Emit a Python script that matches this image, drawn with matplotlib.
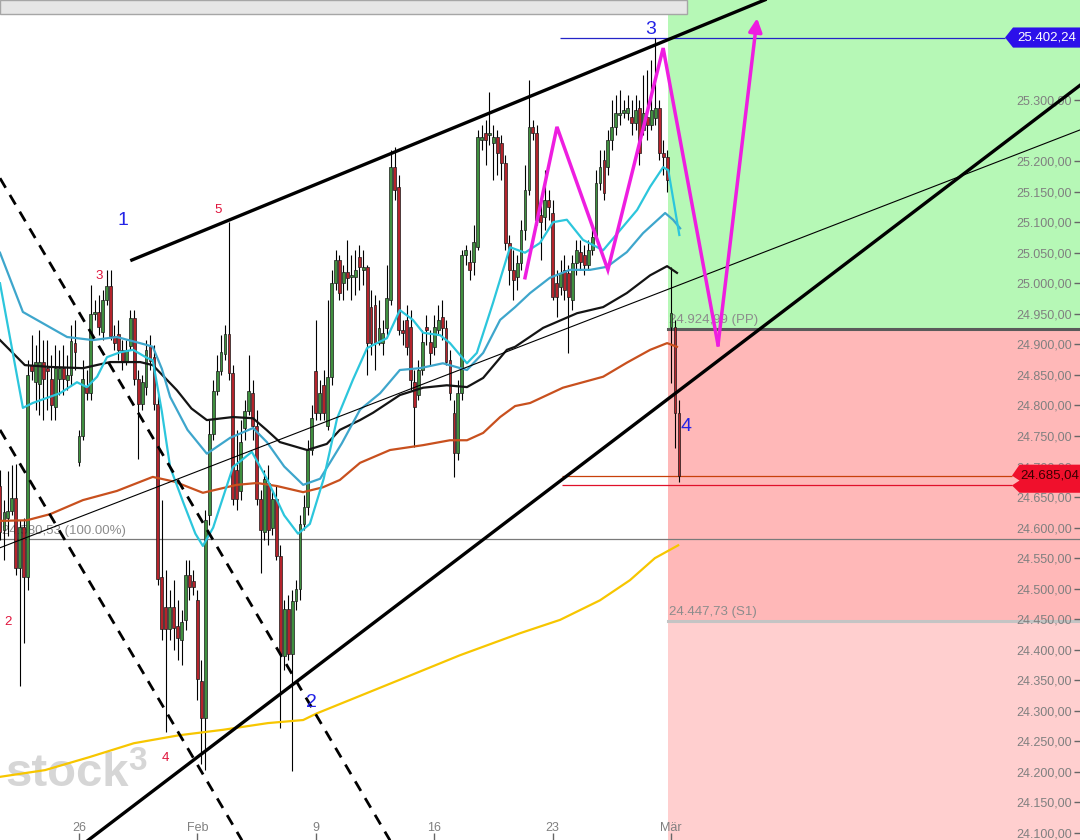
import numpy as np
import matplotlib.pyplot as plt
import matplotlib.transforms as mtrans
from matplotlib.patches import Rectangle, Polygon

plt.rcParams['font.family'] = ['Liberation Sans', 'DejaVu Sans']

# ---- candle data (6 candles per trading day, index 0 = Mon 26 Jan first candle)
opens = [24668, 24596, 24616, 24627, 24648, 24534, 24601, 24519, 24866, 24838,
         24835, 24871, 24861, 24843, 24797, 24843, 24861, 24842, 24850, 24902,
         24707, 24750, 24830, 24820, 24950, 24953, 24920, 24973, 24995, 24914,
         24917, 24891, 24873, 24897, 24943, 24843, 24802, 24830, 24897, 24879,
         24802, 24519, 24470, 24434, 24470, 24439, 24416, 24449, 24522, 24513,
         24481, 24349, 24288, 24621, 24753, 24824, 24856, 24884, 24917, 24853,
         24694, 24660, 24763, 24791, 24820, 24766, 24647, 24593, 24673, 24599,
         24647, 24554, 24390, 24467, 24393, 24480, 24500, 24606, 24634, 24727,
         24856, 24788, 24833, 24766, 24846, 25000, 25038, 25000, 25018, 25010,
         25010, 25043, 25022, 25027, 24961, 24964, 24902, 24902, 24927, 24973,
         25190, 25158, 24923, 24940, 24928, 24838, 24817, 24858, 24928, 24904,
         24896, 24923, 24945, 24927, 24874, 24788, 24722, 24820, 25046, 25035,
         25035, 25059, 25234, 25246, 25243, 25230, 25239, 25230, 25197, 25066,
         25022, 25010, 25033, 25087, 25153, 25256, 25246, 25112, 25108, 25136,
         25115, 25000, 24994, 25022, 25017, 24973, 25033, 25051, 25046, 25030,
         25054, 25076, 25164, 25202, 25190, 25234, 25256, 25275, 25279, 25279,
         25272, 25262, 25287, 25251, 25272, 25259, 25270, 25287, 25213, 25207,
         24928, 24928, 24788]
closes = [24593, 24625, 24627, 24648, 24534, 24601, 24519, 24850, 24856, 24871,
          24871, 24843, 24856, 24801, 24861, 24861, 24843, 24850, 24905, 24887,
          24750, 24843, 24820, 24950, 24953, 24928, 24973, 24995, 24914, 24902,
          24891, 24873, 24891, 24943, 24843, 24802, 24838, 24891, 24873, 24802,
          24516, 24434, 24434, 24470, 24436, 24419, 24445, 24522, 24503, 24503,
          24352, 24288, 24612, 24753, 24824, 24856, 24887, 24917, 24853, 24647,
          24647, 24740, 24791, 24824, 24766, 24647, 24596, 24680, 24596, 24647,
          24554, 24393, 24467, 24393, 24480, 24500, 24606, 24634, 24727, 24779,
          24788, 24820, 24788, 24846, 25000, 25038, 24984, 25018, 25009, 25013,
          25022, 25027, 25027, 24902, 24902, 24902, 24927, 24918, 24976, 25190,
          25153, 24923, 24918, 24896, 24842, 24797, 24858, 24904, 24923, 24886,
          24928, 24940, 24927, 24871, 24820, 24722, 24820, 25046, 25054, 25022,
          25068, 25239, 25239, 25234, 25246, 25239, 25213, 25197, 25066, 25022,
          25005, 25033, 25087, 25153, 25256, 25246, 25104, 25100, 25136, 25125,
          24978, 24978, 25017, 24989, 24978, 25033, 25054, 25035, 25030, 25054,
          25076, 25164, 25190, 25148, 25234, 25256, 25279, 25279, 25284, 25287,
          25262, 25284, 25213, 25279, 25259, 25284, 25287, 25213, 25207, 25169,
          24951, 24788, 24685.04]
highs = [24694, 24645, 24693, 24702, 24704, 24612, 24616, 24874, 24915, 24899,
         24923, 24907, 24907, 24883, 24899, 24891, 24899, 24883, 24932, 24940,
         24760, 24874, 24858, 24997, 24973, 24981, 24989, 25022, 25022, 24932,
         24940, 24907, 24907, 24956, 24956, 24858, 24850, 24907, 24915, 24899,
         24817, 24645, 24531, 24498, 24514, 24481, 24465, 24547, 24547, 24531,
         24498, 24383, 24629, 24776, 24842, 24883, 24915, 24932, 25100, 24866,
         24760, 24776, 24809, 24883, 24842, 24793, 24662, 24694, 24702, 24662,
         24670, 24572, 24481, 24490, 24498, 24514, 24621, 24653, 24744, 24801,
         24940, 24842, 24858, 24973, 25022, 25054, 25046, 25030, 25071, 25046,
         25054, 25063, 25054, 25030, 24989, 24981, 24973, 24940, 25030, 25218,
         25223, 25177, 24940, 24964, 24956, 24858, 24874, 24923, 24948, 24923,
         24948, 24964, 24973, 24940, 24891, 24809, 24842, 25054, 25063, 25054,
         25095, 25251, 25259, 25267, 25313, 25259, 25251, 25243, 25210, 25079,
         25054, 25046, 25104, 25194, 25333, 25267, 25259, 25136, 25185, 25153,
         25136, 25022, 25038, 25046, 25030, 25046, 25071, 25071, 25063, 25071,
         25095, 25185, 25218, 25218, 25251, 25300, 25308, 25316, 25300, 25308,
         25300, 25308, 25300, 25341, 25349, 25365, 25402.24, 25300, 25234, 25218,
         25027, 24940, 24809]
lows = [24580, 24547, 24586, 24621, 24523, 24341, 24411, 24498, 24842, 24793,
        24784, 24776, 24793, 24776, 24776, 24817, 24817, 24825, 24833, 24858,
        24701, 24743, 24809, 24809, 24940, 24915, 24907, 24964, 24907, 24891,
        24874, 24858, 24866, 24891, 24833, 24712, 24793, 24817, 24858, 24793,
        24506, 24416, 24265, 24416, 24400, 24383, 24375, 24432, 24481, 24490,
        24318, 24213, 24203, 24604, 24743, 24817, 24850, 24874, 24842, 24637,
        24629, 24645, 24743, 24784, 24743, 24637, 24526, 24580, 24571, 24588,
        24547, 24272, 24367, 24383, 24201, 24465, 24481, 24596, 24621, 24719,
        24776, 24776, 24776, 24760, 24833, 24989, 24973, 24973, 24989, 24973,
        24981, 24989, 24997, 24850, 24883, 24858, 24899, 24883, 24915, 24964,
        25136, 24915, 24899, 24883, 24825, 24732, 24809, 24850, 24899, 24866,
        24883, 24915, 24907, 24866, 24809, 24683, 24711, 24809, 25030, 25005,
        25013, 25054, 25218, 25194, 25226, 25169, 25177, 25169, 25054, 24997,
        24973, 24989, 25022, 25071, 25145, 25234, 25095, 25038, 25087, 25104,
        24973, 24945, 24981, 24973, 24886, 24956, 25013, 25022, 25013, 25022,
        25046, 25071, 25153, 25136, 25177, 25218, 25243, 25259, 25270, 25267,
        25243, 25251, 25194, 25243, 25234, 25251, 25259, 25202, 25177, 25149,
        24837, 24730, 24675]

# ---- moving averages (x in candle units, y in points)
ma_fast_x = [-20, -14.2, -11.7, -4.8, -0.5, 2.0, 4.6, 7.1, 10.4, 13.7, 17.2, 18.7, 21.0, 23.1,
             26.5, 29.5, 31.4, 34.0, 39.0, 43.8, 47.6, 52.0, 55.5, 58.5, 62.0, 65.4, 69.4, 73.0,
             78.0, 81.3, 84.6, 87.2, 91.5, 94.0, 98.3, 100.8, 104.9, 109.2, 113.0, 116.8, 120.1,
             123.6, 127.7, 132.8, 137.1, 141.4, 144.7, 148.0, 149.3, 152.1]
ma_fast_y = [25000, 24796, 24804, 24820, 24838, 24830, 24847, 24879, 24887, 24891, 24878, 24874,
             24790, 24699, 24640, 24590, 24570, 24600, 24699, 24724, 24680, 24620, 24590, 24606,
             24680, 24779, 24842, 24894, 24910, 24956, 24940, 24919, 24915, 24902, 24869, 24886,
             24968, 25059, 25050, 25066, 25100, 25104, 25071, 25054, 25087, 25120, 25158, 25190,
             25185, 25079]
ma_mid_x = [-20, -14.2, -3.0, 3.5, 9.6, 17.2, 18.7, 21.0, 23.1, 27.5, 32.4, 38.3, 44.1, 47.6,
            52.0, 56.8, 61.1, 66.6, 71.2, 76.3, 81.3, 86.4, 92.2, 98.3, 102.4, 106.7, 110.5,
            114.3, 119.3, 124.4, 129.5, 133.8, 138.8, 142.9, 148.5, 150.5, 152.3]
ma_mid_y = [25050, 24953, 24912, 24907, 24912, 24899, 24896, 24860, 24814, 24760, 24721, 24747,
            24763, 24740, 24700, 24670, 24680, 24738, 24793, 24820, 24858, 24861, 24869, 24858,
            24886, 24940, 24961, 24984, 25009, 25022, 25022, 25027, 25051, 25082, 25115, 25104,
            25090]
ma_black_x = [-20, -13.7, -7.3, 1.0, 7.9, 15.5, 18.7, 24.8, 28.5, 32.4, 39.0, 44.1, 47.5, 50.9,
              57.8, 62.8, 66.1, 71.2, 74.5, 81.3, 87.2, 93.2, 98.3, 102.4, 108.4, 110.5, 117.6,
              126.2, 132.8, 138.8, 144.7, 149.0, 151.5]
ma_black_y = [24907, 24866, 24863, 24861, 24871, 24871, 24866, 24825, 24795, 24776, 24781, 24779,
              24760, 24740, 24727, 24737, 24760, 24776, 24788, 24817, 24829, 24833, 24830, 24845,
              24891, 24896, 24927, 24951, 24961, 24984, 25013, 25028, 25017]
ma_orange_x = [-20, -13.2, -7.3, 1.0, 9.6, 18.7, 24.3, 31.4, 40.0, 45.1, 50.2, 56.8, 61.8, 66.1,
               71.2, 78.8, 87.2, 94.0, 98.3, 102.4, 106.7, 110.5, 114.3, 122.6, 132.8, 138.8,
               144.7, 149.0, 151.5]
ma_orange_y = [24611, 24612, 24622, 24645, 24660, 24683, 24675, 24657, 24670, 24673, 24668, 24658,
               24666, 24678, 24706, 24727, 24735, 24743, 24743, 24755, 24781, 24799, 24804, 24829,
               24847, 24870, 24891, 24902, 24896]
ma_yellow_x = [-20, -8.6, 2.5, 13.9, 25.3, 36.5, 47.9, 56.8, 60.3, 68.7, 81.3, 96.5, 111.7,
               121.9, 132.0, 139.6, 145.9, 151.8]
ma_yellow_y = [24192, 24203, 24224, 24247, 24260, 24269, 24280, 24285, 24296, 24318, 24351, 24391,
               24427, 24449, 24481, 24514, 24550, 24571]

# ---- drawn trend lines and projection
upper_x, upper_y = [13.4, 173.8], [25038, 25464]
lower_x, lower_y = [2.3, 253.6], [24088, 25324]
thin_x, thin_y = [-20.0, 253.6], [24567, 25251]
dash_a_x, dash_a_y = [-20.0, 78.8], [25172, 24088]
dash_b_x, dash_b_y = [-20.0, 41.3], [24760, 24088]
zig_x = [113.0, 121.1, 134.0, 148.0, 161.9]
zig_y = [25009, 25256, 25022, 25385, 24899]
arrow_tip = (171.8, 25434)

pp, s1, fib100 = 24924.99, 24447.73, 24580.53
high_mark, last_price = 25402.24, 24685.04

tick_pos = [0, 30, 60, 90, 120, 150]
tick_lab = ['26', 'Feb', '9', '16', '23', 'Mär']
y_ticks = [v for v in range(24100, 25301, 50) if v != 25250]


def de(v):
    return f'{v:,.2f}'.replace(',', 'X').replace('.', ',').replace('X', '.')


fig = plt.figure(figsize=(10.8, 8.4), dpi=100)
ax = fig.add_axes([0, 0, 1, 1])
ax.set_xlim(-20.0, 253.6)
ax.set_ylim(24088.6, 25463.7)
for s in ax.spines.values():
    s.set_visible(False)

zone_x0 = 668 / 1080
ax.axhspan(pp, 25463.7, xmin=zone_x0, color='#b6f8b6', lw=0, zorder=0)
ax.axhspan(s1, pp, xmin=zone_x0, color='#ffb8b8', lw=0, zorder=0)
ax.axhspan(24088.6, s1, xmin=zone_x0, color='#ffcfcf', lw=0, zorder=0)
ax.axhline(pp, xmin=zone_x0, color='#5a5a5a', lw=2.2, zorder=1)
ax.axhline(s1, xmin=zone_x0, color='#c4c4c4', lw=2.2, zorder=1)
ax.axhline(fib100, color='#7a7a7a', lw=0.9, zorder=1)
ax.hlines(high_mark, 121.9, 234.6, color='#2424c8', lw=0.9, zorder=1)
ax.hlines(last_price, 122.4, 236.4, color='#c8400a', lw=0.9, zorder=1)
ax.hlines(24669, 122.4, 236.4, color='#e0102a', lw=0.9, zorder=1)

ax.text(-19.5, fib100 + 4, '24.580,53 (100.00%)', color='#8c8c8c', fontsize=9.5, va='bottom', zorder=1)
ax.text(149.6, pp + 5, '24.924,99 (PP)', color='#8c8c8c', fontsize=9.5, va='bottom', zorder=1)
ax.text(149.6, s1 + 5, '24.447,73 (S1)', color='#8c8c8c', fontsize=9.5, va='bottom', zorder=1)

# watermark
ax.text(-18.7, 24177, 'stock', color='#d6d6d6', fontsize=34, fontweight='bold',
        ha='left', va='baseline', zorder=2)
ax.text(12.6, 24242, '3', color='#d6d6d6', fontsize=24, fontweight='bold',
        ha='left', va='top', zorder=2)

# candles
o, c = np.array(opens), np.array(closes)
h, l = np.array(highs), np.array(lows)
x = np.arange(len(c)) - 20
up = c >= o
body = np.maximum(np.abs(c - o), 2.5)
ax.vlines(x, l, h, color='black', lw=0.8, zorder=3)
ax.bar(x, body, bottom=np.minimum(o, c), width=0.72,
       color=np.where(up, '#3f8f3f', '#b4232b'), edgecolor='#1a1a1a', linewidth=0.5, zorder=3)

# moving averages
ax.plot(ma_yellow_x, ma_yellow_y, color='#f7c600', lw=1.6, zorder=4)
ax.plot(ma_orange_x, ma_orange_y, color='#c8501e', lw=1.6, zorder=4)
ax.plot(ma_black_x, ma_black_y, color='#141414', lw=1.6, zorder=4)
ax.plot(ma_mid_x, ma_mid_y, color='#3ea6cc', lw=1.6, zorder=4)
ax.plot(ma_fast_x, ma_fast_y, color='#2cc6dc', lw=1.6, zorder=4)

# trend lines
ax.plot(upper_x, upper_y, color='black', lw=2.4, zorder=5)
ax.plot(lower_x, lower_y, color='black', lw=2.4, zorder=5)
ax.plot(thin_x, thin_y, color='black', lw=0.8, zorder=5)
ax.plot(dash_a_x, dash_a_y, color='black', lw=2.0, ls=(0, (4, 3)), zorder=5)
ax.plot(dash_b_x, dash_b_y, color='black', lw=2.0, ls=(0, (4, 3)), zorder=5)

ax.plot(zig_x, zig_y, color='#ee1ee0', lw=2.5, zorder=6, solid_joinstyle='miter')
ax.annotate('', xy=arrow_tip, xytext=(zig_x[-1], zig_y[-1]),
            arrowprops=dict(arrowstyle='-|>', color='#ee1ee0', lw=2.5, mutation_scale=20,
                            shrinkA=0, shrinkB=0), zorder=6)

# wave labels
for tx, ty, s in [(11.1, 25102, '1'), (59.0, 24313, '2'), (144.9, 25415, '3'), (153.8, 24766, '4')]:
    ax.text(tx, ty, s, color='#2323e6', fontsize=14, ha='center', va='center', zorder=7)
for tx, ty, s in [(5.1, 25012, '3'), (35.2, 25120, '5'), (-18.0, 24446, '2'), (22.0, 24223, '4')]:
    ax.text(tx, ty, s, color='#e0143c', fontsize=9.5, ha='center', va='center', zorder=7)

# price tags on the right
tr = mtrans.blended_transform_factory(ax.transAxes, ax.transData)
ax.add_patch(Polygon([(0.9306, high_mark), (0.938, high_mark + 16.5), (1.0, high_mark + 16.5),
                      (1.0, high_mark - 16.5), (0.938, high_mark - 16.5)],
                     closed=True, fc='#2c10ea', ec='none', transform=tr, zorder=8))
ax.text(0.969, high_mark, de(high_mark), color='white', fontsize=9.5, ha='center', va='center',
        transform=tr, zorder=9)
ax.add_patch(Polygon([(0.937, last_price), (0.944, last_price + 18), (1.0, last_price + 18),
                      (1.0, last_price - 28), (0.944, last_price - 28), (0.937, 24669),
                      (0.944, last_price - 8)],
                     closed=True, fc='#f0102c', ec='none', transform=tr, zorder=8))
ax.text(0.972, last_price, de(last_price), color='#3a0000', fontsize=9.5, ha='center', va='center',
        transform=tr, zorder=9)

# top scroll bar
ax.add_patch(Rectangle((0, 1 - 14 / 840), 687 / 1080, 14 / 840, transform=ax.transAxes,
                       fc='#e6e6e6', ec='#a6a6a6', lw=1, zorder=8, clip_on=False))

# axes ticks
ax.yaxis.tick_right()
ax.set_yticks(y_ticks)
ax.set_yticklabels([de(v) for v in y_ticks])
ax.tick_params(axis='y', direction='in', length=4, width=1, color='#666666', pad=-6,
               labelsize=9, labelcolor='#808080')
for t in ax.get_yticklabels():
    t.set_horizontalalignment('right')
ax.set_xticks(tick_pos)
ax.set_xticklabels(tick_lab)
ax.tick_params(axis='x', direction='in', length=5, width=1, color='#666666', pad=-13,
               labelsize=9, labelcolor='#808080')

fig.savefig('out.png', dpi=100)
